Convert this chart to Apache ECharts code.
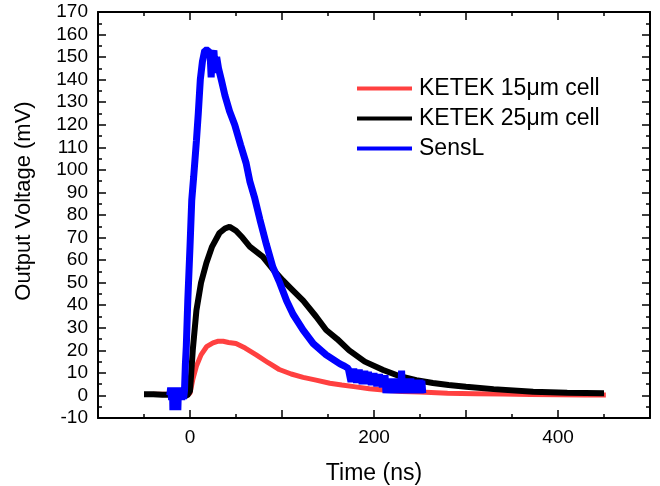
<!DOCTYPE html>
<html>
<head>
<meta charset="utf-8">
<script src="https://cdn.jsdelivr.net/npm/echarts@6/dist/echarts.min.js"></script>
<style>html,body{margin:0;padding:0;background:#fff}#c{width:660px;height:486px}</style>
</head>
<body>
<div id="c"></div>
<script>
// ---- Data ----
var seriesNames = ['KETEK 15\u03bcm cell', 'KETEK 25\u03bcm cell', 'SensL'];

var redTime = [-40,-30,-20,-10,-3,0,3,7,12,18,25,30,36,42,50,60,72,85,97,110,123,137,152,165,180,195,210,230,250,280,310,340,370,400,430,452];
var redVolt = [0.5,0.5,0.5,0.3,0,1,7,13,18,21.6,23.3,24,24,23.5,23,21,18,14.5,11.5,9.5,8,6.8,5.4,4.6,3.8,3,2.4,1.8,1.5,1,0.8,0.6,0.4,0.3,0.2,0.2];

var blackTime = [-50,-40,-30,-20,-10,-3,0,3,7,12,17.8,24,32,38,43,50,57,65,79,90,101,112,123,137,148,160,173,190,210,228,246,264,281,300,330,373,410,450];
var blackVolt = [0.5,0.5,0.3,0.3,0.2,0,2,20,37.8,50,58.7,66,72,74,74.8,73,70,66,61.5,56,51,46.5,42,35,29,25,20,15,11.3,8.5,6.8,5.5,4.6,3.9,2.8,1.6,1.2,1];

var blueTime = [-22,-21,-20,-19,-18.6,-18,-17,-16,-15,-14,-13.2,-12.5,-11,-10,-9,-8,-7,-6,
  -5,-4,-2.4,0,1.9,4,7,9,11.2,13.5,16,18,20,22,23,24,26,27.5,29,31,34,38,43,48.6,55,61,65,70,76,83,90,97.5,105,112,123,134,148,163,
  168,172,174,175,176,177,178,179,180,181,182,183,184,185,186,187,188,189,190,191,192,193,194,195,196,197,198,199,200,201,202,203,204,205,206,207,208,209,210,
  211,212,213,214,215,216,217,218,219,220,221,222,223,224,225,226,227,228,229,230,231,232,233,234,235,236,237,238,239,240,241,242,243,244,245,246,247,248,249,250,251,252,253];
var blueVolt = [0,3.5,-2,3.5,-6.5,3.5,-2,3.5,-2,3.5,-6.5,3.5,-2,3.5,-2,3.5,-1.5,2,
  14,22,42,66,86.6,97,113,125,140,148,153,153,153,150,141,150,153,143,150,145,140,133,126,120,111,103,95,88,78,67,57,50,42,36,29,23,18,14,
  13,12,12,6,12,6,12,6,11.5,5.5,11.5,5.5,11.5,5.5,11,5,11,5,11,5,10.5,5,10.5,5,10,4.5,10,4.5,10,4.5,9.5,4,9.5,4,9.5,4,9,3.5,9,3.5,9,
  1,7.5,1,7.5,1,7.5,1,7.5,1,7.5,1,7.5,1,7.5,1,7.5,1,11,1,7.5,1,7.5,1,7.5,1,7.5,1,7.5,1,7,1,7,1,7,1,7,1,7,1,6.5,1,6];

var xTickLabels = [0, 200, 400];

function pairs(t, v) { return t.map(function (x, i) { return [x, v[i]]; }); }

var font = "'Liberation Sans', Arial, sans-serif";
var chart = echarts.init(document.getElementById('c'), null, { renderer: 'canvas' });

var axisLine = { show: true, onZero: false, lineStyle: { color: '#000', width: 2 } };
var tick = { show: true, inside: true, length: 8, lineStyle: { color: '#000', width: 1.5 } };
var minor = { show: true, splitNumber: 2, length: 4, lineStyle: { color: '#000', width: 1.5 } };

chart.setOption({
  animation: false,
  backgroundColor: '#fff',
  grid: { left: 98, right: 10, top: 12, bottom: 68, containLabel: false, outerBoundsMode: 'none' },
  legend: {
    orient: 'vertical', left: 357, top: 77, padding: 0,
    icon: 'rect', itemWidth: 55, itemHeight: 4, itemGap: 7,
    textStyle: { fontFamily: font, fontSize: 23, color: '#000', padding: [0, 0, 0, 2] },
    data: seriesNames
  },
  xAxis: [{
    type: 'value', position: 'bottom', min: -100, max: 500, interval: 100,
    axisLine: axisLine, axisTick: tick, minorTick: minor,
    splitLine: { show: false },
    axisLabel: { color: '#000', fontFamily: font, fontSize: 19, margin: 10,
      formatter: function (v) { return xTickLabels.indexOf(v) >= 0 ? String(v) : ''; } },
    name: 'Time (ns)', nameLocation: 'middle', nameGap: 44,
    nameTextStyle: { color: '#000', fontFamily: font, fontSize: 23 }
  }, {
    type: 'value', position: 'top', min: -100, max: 500, interval: 100,
    axisLine: axisLine, axisTick: tick, minorTick: minor,
    splitLine: { show: false }, axisLabel: { show: false }
  }],
  yAxis: [{
    type: 'value', position: 'left', min: -10, max: 170, interval: 10,
    axisLine: axisLine, axisTick: tick, minorTick: minor,
    splitLine: { show: false },
    axisLabel: { color: '#000', fontFamily: font, fontSize: 19, margin: 10 }
  }, {
    type: 'value', position: 'right', min: -10, max: 170, interval: 10,
    axisLine: axisLine, axisTick: tick, minorTick: minor,
    splitLine: { show: false }, axisLabel: { show: false }
  }],
  graphic: [{
    type: 'text', x: 24, y: 201, rotation: Math.PI / 2,
    style: { text: 'Output Voltage (mV)', fontFamily: font, fontSize: 22, fill: '#000',
      align: 'center', verticalAlign: 'middle' }
  }],
  series: [{
    name: seriesNames[0], type: 'line', data: pairs(redTime, redVolt),
    showSymbol: false, symbol: 'none', color: '#ff4040',
    lineStyle: { color: '#ff4040', width: 5 }, z: 2
  }, {
    name: seriesNames[1], type: 'line', data: pairs(blackTime, blackVolt),
    showSymbol: false, symbol: 'none', color: '#000',
    lineStyle: { color: '#000', width: 6 }, z: 3
  }, {
    name: seriesNames[2], type: 'line', data: pairs(blueTime, blueVolt),
    showSymbol: false, symbol: 'none', color: '#0000ff',
    lineStyle: { color: '#0000ff', width: 7 }, z: 4
  }]
});
</script>
</body>
</html>
